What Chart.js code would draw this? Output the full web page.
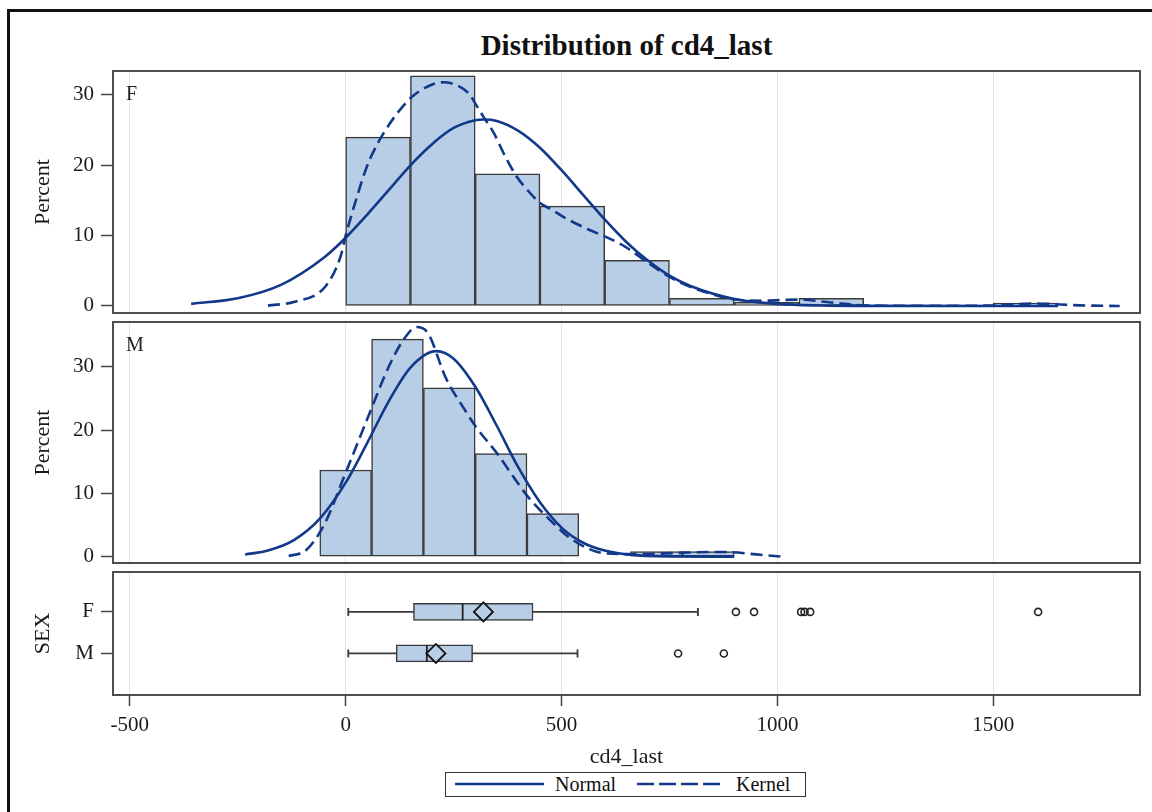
<!DOCTYPE html>
<html>
<head>
<meta charset="utf-8">
<title>Distribution of cd4_last</title>
<script src="https://cdn.jsdelivr.net/npm/chart.js@4.4.1/dist/chart.umd.min.js"></script>
<style>
    body { margin: 0; width: 1152px; height: 812px; overflow: hidden; position: relative; background: #fff;
           font-family: "Liberation Serif", "Times New Roman", serif; color: #111; }
    .frame { position: absolute; left: 7px; top: 9px; width: 1200px; height: 900px; border: 3px solid #111; }
    canvas { position: absolute; left: 0; top: 0; }
    .title { position: absolute; left: 113px; width: 1027px; top: 31px; text-align: center;
             font-weight: bold; font-size: 29px; line-height: 29px; }
    .legend { position: absolute; left: 445px; top: 772px; width: 361px; height: 25px; box-sizing: border-box;
              border: 1.5px solid #333; background: #fff; }
    .legend svg { position: absolute; top: 0; }
    .legend span { position: absolute; top: 1px; font-size: 20px; line-height: 20px; }
</style>
</head>
<body>
<div class="frame"></div>
<div class="title" id="title"></div>
<canvas id="histF" width="1152" height="812"></canvas>
<canvas id="histM" width="1152" height="812"></canvas>
<canvas id="boxSex" width="1152" height="812"></canvas>
<div class="legend">
    <svg style="left:9px" width="90" height="22"><line x1="0" y1="11" x2="89" y2="11" stroke="#12388A" stroke-width="2.5"/></svg>
    <span id="legNormal" style="left:109px"></span>
    <svg style="left:191px" width="86" height="22"><line x1="0" y1="11" x2="85" y2="11" stroke="#12388A" stroke-width="2.5" stroke-dasharray="17 5"/></svg>
    <span id="legKernel" style="left:290px"></span>
</div>
<script>
const chartTitle = 'Distribution of cd4_last';
const xTitle = 'cd4_last';
const legendLabels = ['Normal', 'Kernel'];

const xTicks = [-500, 0, 500, 1000, 1500];
const percentTicks = [0, 10, 20, 30];
const sexLabels = ['F', 'M'];

// ── Histogram bins (bin centre, percent) ──────────────────────────────────────
const binCentersF = [75, 225, 375, 525, 675, 825, 975, 1125, 1575];
const percentF = [24.0, 32.7, 18.8, 14.2, 6.5, 1.1, 0.5, 1.1, 0.4];
const binCentersM = [0, 120, 240, 360, 480, 720, 840];
const percentM = [13.7, 34.4, 26.7, 16.3, 6.8, 0.8, 0.8];

// ── Fitted curves ─────────────────────────────────────────────────────────────
const normalXF = [-358, -250, -150, -50, 0, 50, 100, 150, 200, 250, 300, 320, 350, 400, 450, 500, 550, 600, 650, 700, 750, 800, 900, 1000, 1100, 1200, 1650];
const normalYF = [0.3, 1.1, 3.0, 6.9, 9.7, 13.0, 16.5, 20.0, 23.0, 25.3, 26.4, 26.5, 26.3, 24.9, 22.5, 19.3, 15.8, 12.3, 9.1, 6.45, 4.3, 2.8, 1.0, 0.3, 0.07, 0.01, 0];
const kernelXF = [-180, -118, -48, -12, 0, 25, 49, 75, 103, 130, 155, 190, 226, 260, 288, 300, 320, 343, 370, 396, 425, 451, 480, 503, 565, 600, 648, 701, 763, 842, 913, 965, 1046, 1125, 1196, 1300, 1487, 1594, 1700, 1793];
const kernelYF = [0.05, 0.6, 2.7, 7.0, 10.0, 15.3, 19.8, 23.2, 26.0, 28.2, 29.8, 31.2, 31.8, 31.3, 30.0, 28.8, 26.8, 24.6, 21.2, 18.4, 16.2, 14.6, 13.6, 12.7, 10.8, 9.9, 8.4, 6.1, 3.7, 1.8, 0.85, 0.75, 0.9, 0.5, 0.1, 0.02, 0.05, 0.35, 0.08, 0];

const normalXM = [-233, -180, -120, -60, 0, 50, 100, 150, 210, 250, 300, 350, 400, 450, 500, 550, 600, 650, 750, 900];
const normalYM = [0.35, 0.96, 2.6, 6.0, 11.7, 18.0, 24.6, 29.9, 32.5, 31.3, 26.9, 20.7, 14.1, 8.6, 4.6, 2.2, 0.96, 0.37, 0.04, 0];
const kernelXM = [-132, -92, -48, -4, 49, 103, 138, 164, 191, 231, 276, 302, 351, 394, 422, 466, 527, 604, 680, 771, 850, 895, 960, 1010];
const kernelYM = [0.1, 1.0, 5.3, 12.6, 21.6, 30.5, 34.7, 36.3, 35.3, 28.4, 23.2, 20.5, 16.3, 12.1, 9.5, 6.3, 2.6, 0.5, 0.4, 0.6, 0.75, 0.7, 0.3, 0];

// ── Box plot summaries (order: F, M) ─────────────────────────────────────────
const whiskerLow = [6, 6];
const q1 = [157, 117];
const median = [271, 188];
const mean = [319, 209];
const q3 = [434, 294];
const whiskerHigh = [816, 537];
const outliersF = [904, 946, 1055, 1063, 1076, 1604];
const outliersM = [770, 876];

// ── Style ────────────────────────────────────────────────────────────────────
const fitColor = '#12388A';
const barFill = '#B8CDE6';
const edgeColor = '#3a3a3a';
const gridColor = '#e4e4e4';
const serif = '"Liberation Serif", "Times New Roman", serif';

Chart.defaults.font.family = serif;
Chart.defaults.color = '#1a1a1a';
Chart.defaults.animation = false;

document.getElementById('title').textContent = chartTitle;
document.getElementById('legNormal').textContent = legendLabels[0];
document.getElementById('legKernel').textContent = legendLabels[1];

const X_MIN = -539;
const X_MAX = 1840;

// frame round the plot area + panel label in its top-left corner
const panelFrame = {
    id: 'panelFrame',
    afterDatasetsDraw(chart, args, opts) {
        const { ctx, chartArea: a } = chart;
        ctx.save();
        ctx.strokeStyle = '#4d4d4d';
        ctx.lineWidth = 2;
        ctx.strokeRect(a.left, a.top, a.right - a.left, a.bottom - a.top);
        if (opts.label) {
            ctx.font = '20px ' + serif;
            ctx.fillStyle = '#222';
            ctx.textBaseline = 'alphabetic';
            ctx.fillText(opts.label, a.left + 13, a.top + 29);
        }
        ctx.restore();
    },
};

function points(xs, ys) {
    return xs.map((x, i) => ({ x, y: ys[i] }));
}

function fitLine(xs, ys, dashed) {
    return {
        type: 'line',
        data: points(xs, ys),
        borderColor: fitColor,
        borderWidth: 2.6,
        borderDash: dashed ? [12, 6] : [],
        pointRadius: 0,
        cubicInterpolationMode: 'monotone',
        fill: false,
        order: dashed ? 1 : 2,
    };
}

function xScale(showLabels) {
    return {
        type: 'linear',
        min: X_MIN,
        max: X_MAX,
        offset: false,
        afterBuildTicks: (s) => { s.ticks = xTicks.map((v) => ({ value: v })); },
        afterFit: (s) => { s.height = showLabels ? 117 : 0; },
        grid: {
            offset: false,
            color: gridColor,
            lineWidth: 1,
            drawTicks: showLabels,
            tickLength: 11,
            tickColor: '#444',
            tickWidth: 1.5,
        },
        border: { display: false },
        ticks: { display: showLabels, padding: 7, font: { size: 21 }, maxRotation: 0, callback: (v) => String(v) },
        title: { display: showLabels, text: xTitle, font: { size: 22 }, padding: { top: 0, bottom: 42 } },
    };
}

function yTitle(text) {
    return { display: true, text, font: { size: 22 }, padding: { top: 30, bottom: 0 } };
}

// ── Histogram panels ─────────────────────────────────────────────────────────

function histogram(canvasId, label, centers, pcts, nx, ny, kx, ky, yMax, top, bottom) {
    return new Chart(document.getElementById(canvasId), {
        type: 'scatter',
        data: {
            datasets: [
                {
                    type: 'bar',
                    data: points(centers, pcts),
                    backgroundColor: barFill,
                    borderColor: edgeColor,
                    borderWidth: 1.5,
                    borderSkipped: false,
                    barPercentage: 1,
                    categoryPercentage: 1,
                    order: 3,
                },
                fitLine(nx, ny, false),
                fitLine(kx, ky, true),
            ],
        },
        options: {
            responsive: false,
            layout: { padding: { top, bottom: 812 - bottom, left: 0, right: 12 } },
            plugins: { legend: { display: false }, tooltip: { enabled: false }, panelFrame: { label } },
            scales: {
                x: xScale(false),
                y: {
                    type: 'linear',
                    min: -1,
                    max: yMax,
                    offset: false,
                    afterBuildTicks: (s) => { s.ticks = percentTicks.map((v) => ({ value: v })); },
                    afterFit: (s) => { s.width = 113; },
                    grid: { drawOnChartArea: false, tickLength: 12, tickColor: '#444', tickWidth: 1.5, offset: false },
                    border: { display: false },
                    ticks: { padding: 7, font: { size: 21 } },
                    title: yTitle('Percent'),
                },
            },
        },
        plugins: [panelFrame],
    });
}

histogram('histF', sexLabels[0], binCentersF, percentF, normalXF, normalYF, kernelXF, kernelYF, 33.4, 71, 313);
histogram('histM', sexLabels[1], binCentersM, percentM, normalXM, normalYM, kernelXM, kernelYM, 37.1, 322, 563);

// ── Box plot panel ───────────────────────────────────────────────────────────

const boxDatasets = [
    ...sexLabels.map((s, i) => ({
        type: 'line',
        data: [{ x: whiskerLow[i], y: i }, { x: whiskerHigh[i], y: i }],
        borderColor: '#3a3a3a',
        borderWidth: 1.8,
        pointRadius: 0,
        order: 6,
    })),
    {
        type: 'scatter',
        data: [...whiskerLow.map((x, i) => ({ x, y: i })), ...whiskerHigh.map((x, i) => ({ x, y: i }))],
        pointStyle: 'line',
        rotation: 90,
        radius: 4,
        borderColor: '#3a3a3a',
        borderWidth: 1.8,
        order: 5,
    },
    {
        type: 'bar',
        indexAxis: 'y',
        grouped: false,
        data: q1.map((v, i) => ({ y: i, x: [v, q3[i]] })),
        barThickness: 17,
        backgroundColor: barFill,
        borderColor: edgeColor,
        borderWidth: 1.5,
        borderSkipped: false,
        order: 4,
    },
    {
        type: 'scatter',
        data: median.map((x, i) => ({ x, y: i })),
        pointStyle: 'line',
        rotation: 90,
        radius: 8.5,
        borderColor: '#222',
        borderWidth: 1.8,
        order: 3,
    },
    {
        type: 'scatter',
        data: mean.map((x, i) => ({ x, y: i })),
        pointStyle: 'rectRot',
        radius: 9.5,
        backgroundColor: barFill,
        borderColor: '#111',
        borderWidth: 1.8,
        order: 2,
    },
    {
        type: 'scatter',
        data: [...outliersF.map((x) => ({ x, y: 0 })), ...outliersM.map((x) => ({ x, y: 1 }))],
        pointStyle: 'circle',
        radius: 3.5,
        backgroundColor: 'rgba(255,255,255,0)',
        borderColor: '#222',
        borderWidth: 1.6,
        order: 1,
    },
];

new Chart(document.getElementById('boxSex'), {
    type: 'scatter',
    data: { datasets: boxDatasets },
    options: {
        responsive: false,
        layout: { padding: { top: 572, bottom: 0, left: 0, right: 12 } },
        plugins: { legend: { display: false }, tooltip: { enabled: false }, panelFrame: {} },
        scales: {
            x: xScale(true),
            y: {
                type: 'linear',
                reverse: true,
                min: -0.96,
                max: 2.0,
                offset: false,
                afterBuildTicks: (s) => { s.ticks = sexLabels.map((_, i) => ({ value: i })); },
                afterFit: (s) => { s.width = 113; },
                grid: { drawOnChartArea: false, tickLength: 12, tickColor: '#444', tickWidth: 1.5, offset: false },
                border: { display: false },
                ticks: { padding: 7, font: { size: 21 }, callback: (v) => sexLabels[v] },
                title: yTitle('SEX'),
            },
        },
    },
    plugins: [panelFrame],
});
</script>
</body>
</html>
